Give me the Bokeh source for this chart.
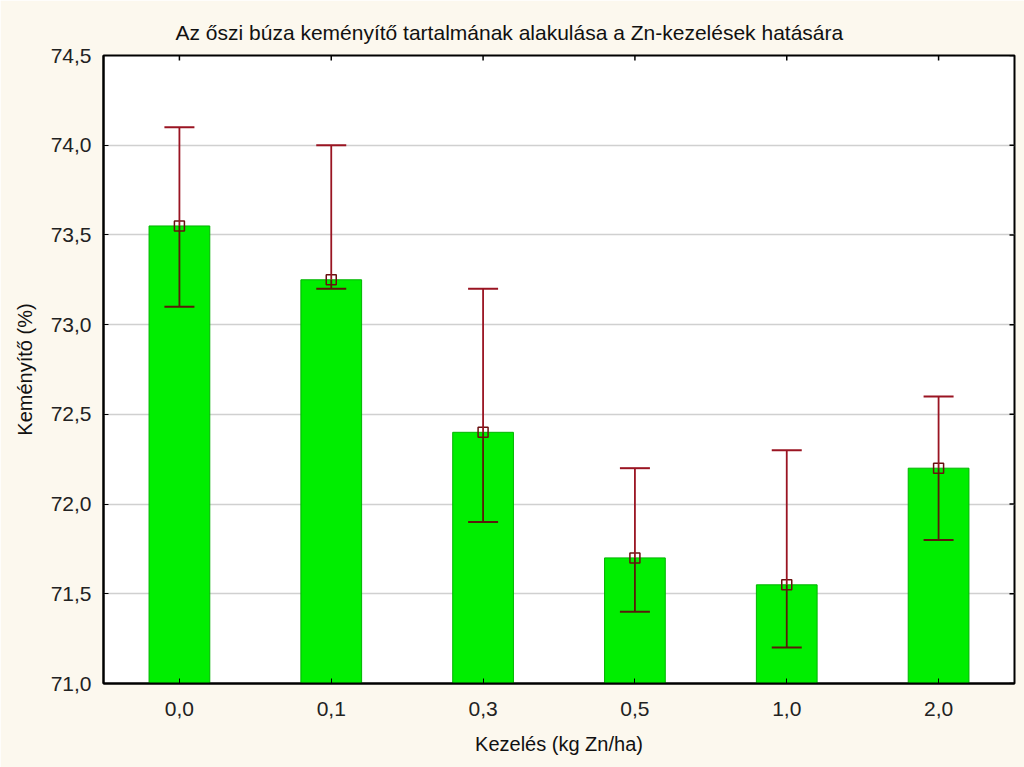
import math
from bokeh.plotting import figure
from bokeh.models import (Range1d, ColumnDataSource, Whisker, TeeHead, CustomJSTickFormatter,
                          FixedTicker)
from bokeh.embed import file_html
from bokeh.resources import INLINE

categories = ["0,0", "0,1", "0,3", "0,5", "1,0", "2,0"]
means = [73.55, 73.25, 72.40, 71.70, 71.55, 72.20]
upper = [74.10, 74.00, 73.20, 72.20, 72.30, 72.60]
lower = [73.10, 73.20, 71.90, 71.40, 71.20, 71.80]
y_ticks = [71.0, 71.5, 72.0, 72.5, 73.0, 73.5, 74.0, 74.5]

title = "Az őszi búza keményítő tartalmának alakulása a Zn-kezelések hatására"
x_label = "Kezelés (kg Zn/ha)"
y_label = "Keményítő (%)"

FONT = "Liberation Sans"
BG = "#FCF8EE"
Y0, Y1 = y_ticks[0], y_ticks[-1]

src = ColumnDataSource(dict(x=categories, mean=means, upper=upper, lower=lower))

p = figure(width=1024, height=767, x_range=categories, y_range=Range1d(Y0, Y1),
           output_backend="svg", toolbar_location=None,
           min_border_left=103, min_border_right=10, min_border_top=55, min_border_bottom=84)
p.background_fill_color = "white"
p.border_fill_color = BG
p.outline_line_color = "black"
p.outline_line_width = 2

p.title.text = title
p.title.text_font = FONT
p.title.text_font_size = "21px"
p.title.text_font_style = "normal"
p.title.align = "left"
p.title.offset = 72
p.title.standoff = 24
p.title.text_color = "#111111"

p.vbar(x="x", top="mean", bottom=Y0, width=0.4, source=src,
       fill_color="#00EE00", line_color="#00B400", line_width=1)

up_w = Whisker(base="x", upper="upper", lower="mean", source=src, level="overlay",
               line_color="#9A1422", line_width=1.8,
               upper_head=TeeHead(size=30, line_color="#9A1422", line_width=2),
               lower_head=None)
lo_w = Whisker(base="x", upper="mean", lower="lower", source=src, level="overlay",
               line_color="#5A1A0A", line_width=1.8,
               lower_head=TeeHead(size=30, line_color="#5A1A0A", line_width=2),
               upper_head=None)
p.add_layout(up_w)
p.add_layout(lo_w)

p.scatter(x="x", y="mean", source=src, marker="square", size=10,
          fill_color=None, line_color="#6A1010", line_width=1.5, level="overlay")

# inward ticks on the right and top frame edges
p.scatter(x=[[categories[-1], 0.5]] * len(y_ticks), y=y_ticks, marker="dash", size=10,
          line_color="black", line_width=1.5)
p.scatter(x=categories, y=[Y1] * len(categories), marker="dash", size=10, angle=math.pi / 2,
          line_color="black", line_width=1.5)

fmt = CustomJSTickFormatter(code="return tick.toFixed(1).replace('.', ',');")

yax = p.yaxis[0]
yax.ticker = FixedTicker(ticks=y_ticks)
yax.formatter = fmt
yax.axis_label = y_label
yax.axis_label_text_font = FONT
yax.axis_label_text_font_size = "20px"
yax.axis_label_text_font_style = "normal"
yax.axis_label_text_color = "#111111"
yax.axis_label_standoff = 12
yax.major_label_text_font = FONT
yax.major_label_text_font_size = "21px"
yax.major_label_text_color = "#222222"
yax.major_tick_in = 5
yax.major_tick_out = 0
yax.minor_tick_in = 0
yax.minor_tick_out = 0
yax.axis_line_color = "black"
yax.axis_line_width = 2
yax.major_label_standoff = 12

xax = p.xaxis[0]
xax.axis_label = x_label
xax.axis_label_text_font = FONT
xax.axis_label_text_font_size = "20px"
xax.axis_label_text_font_style = "normal"
xax.axis_label_text_color = "#111111"
xax.major_label_text_font = FONT
xax.major_label_text_font_size = "21px"
xax.major_label_text_color = "#222222"
xax.major_tick_in = 5
xax.major_tick_out = 0
xax.axis_line_color = "black"
xax.axis_line_width = 2
xax.major_label_standoff = 18
xax.axis_label_standoff = 14

p.xgrid.grid_line_color = None
p.ygrid.grid_line_color = "#D0D0D0"
p.ygrid.grid_line_width = 1.5
p.ygrid.ticker = FixedTicker(ticks=y_ticks)

open("out.html", "w").write(file_html(p, INLINE))
